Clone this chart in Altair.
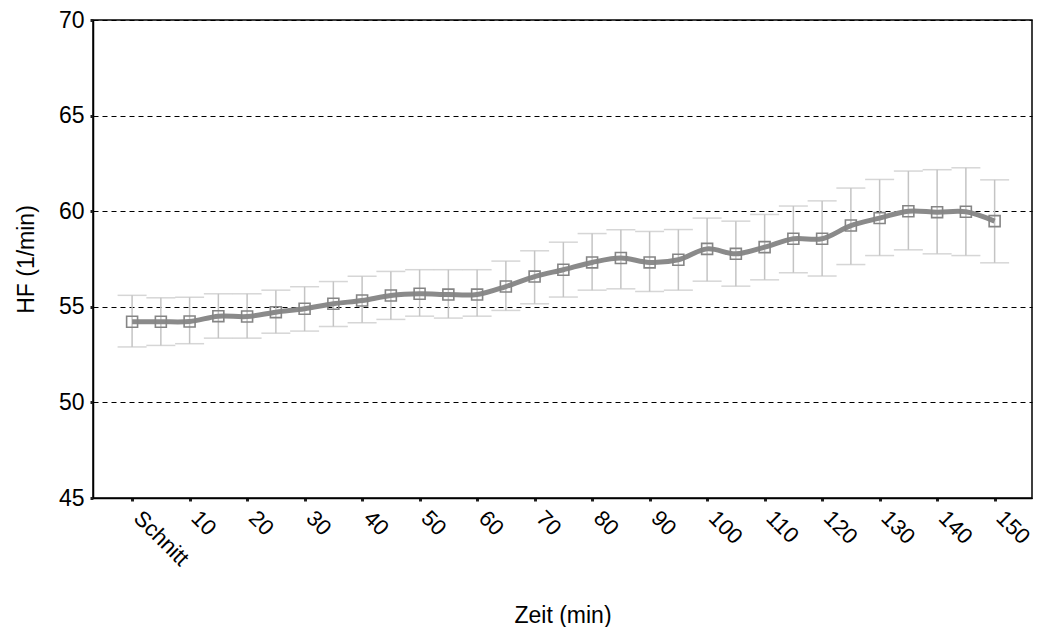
import altair as alt
import pandas as pd

step_index = list(range(31))
tick_labels = ["Schnitt"] + [str(m) for m in range(10, 151, 10)]
mean_hf = [54.22, 54.22, 54.23, 54.51, 54.49, 54.72, 54.90, 55.16, 55.33, 55.59,
           55.68, 55.64, 55.64, 56.06, 56.58, 56.94, 57.32, 57.55, 57.32, 57.46,
           58.03, 57.77, 58.12, 58.56, 58.56, 59.25, 59.64, 60.00, 59.95, 59.97,
           59.48]
upper_hf = [55.60, 55.47, 55.50, 55.68, 55.68, 55.87, 56.05, 56.32, 56.60, 56.85,
            56.94, 56.94, 56.94, 57.39, 57.93, 58.38, 58.83, 59.03, 58.94, 59.04,
            59.64, 59.48, 59.83, 60.27, 60.54, 61.21, 61.66, 62.10, 62.17, 62.27,
            61.64]
lower_hf = [52.90, 52.98, 53.07, 53.36, 53.36, 53.62, 53.73, 53.97, 54.16, 54.34,
            54.51, 54.41, 54.51, 54.81, 55.16, 55.51, 55.87, 55.94, 55.80, 55.87,
            56.34, 56.08, 56.41, 56.78, 56.61, 57.21, 57.68, 57.98, 57.77, 57.68,
            57.30]

df = pd.DataFrame({"i": step_index, "mean": mean_hf, "up": upper_hf, "lo": lower_hf})

label_expr = "datum.value == 0 ? 'Schnitt' : format(datum.value * 5, 'd')"

FS = 23

x_enc = alt.X(
    "i:Q",
    scale=alt.Scale(domain=[-1.36, 31.3], nice=False, zero=False),
    axis=alt.Axis(
        title="Zeit (min)",
        values=list(range(0, 31, 2)),
        labelExpr=label_expr,
        labelOverlap=False,
        labelAngle=45,
        labelAlign="left",
        labelBaseline="alphabetic",
        labelPadding=18,
        labelFontSize=22,
        titleFontSize=FS,
        titleFontWeight="normal",
        titleY=124,
        titleBaseline="alphabetic",
        grid=False,
        tickSize=3,
        tickWidth=3,
        tickColor="#222222",
        domainColor="black",
        domainWidth=1.5,
        labelColor="black",
        titleColor="black",
    ),
)

y_scale = alt.Scale(domain=[45, 70], nice=False, zero=False)
y_axis = alt.Axis(
    title="HF (1/min)",
    values=[45, 50, 55, 60, 65, 70],
    labelFontSize=FS,
    titleFontSize=FS,
    titleFontWeight="normal",
    titleAngle=270,
    titleX=-67,
    titleY=239,
    titleBaseline="middle",
    titleAlign="center",
    labelPadding=6,
    grid=True,
    gridColor="black",
    gridDash=[5, 4],
    gridWidth=1.2,
    tickSize=3,
    tickWidth=3,
    tickColor="#222222",
    domainColor="black",
    domainWidth=1.5,
    labelColor="black",
    titleColor="black",
)

base = alt.Chart(df)

rules = base.mark_rule(color="#c4c4c4", strokeWidth=1.5).encode(
    x=x_enc,
    y=alt.Y("lo:Q", scale=y_scale, axis=y_axis),
    y2="up:Q",
)
cap_up = base.mark_tick(orient="horizontal", size=29, thickness=1.5, color="#c4c4c4").encode(
    x="i:Q", y="up:Q"
)
cap_lo = base.mark_tick(orient="horizontal", size=29, thickness=1.5, color="#c4c4c4").encode(
    x="i:Q", y="lo:Q"
)
line = base.mark_line(color="#8a8a8a", strokeWidth=5, interpolate="catmull-rom").encode(
    x="i:Q", y="mean:Q"
)
pts = base.mark_point(shape="square", size=120, filled=False, color="#858585",
                      strokeWidth=1.6, opacity=1).encode(x="i:Q", y="mean:Q")

chart = alt.layer(rules, cap_up, cap_lo, line, pts).properties(
    width=939,
    height=478,
    autosize=alt.AutoSizeParams(type="none"),
    padding={"left": 85, "top": 12, "right": 2, "bottom": 129},
    background="white",
).configure_view(
    stroke="black", strokeWidth=1.5
).configure_axis(
    labelFont="Liberation Sans", titleFont="Liberation Sans"
)

chart.save("out.html", embed_options={"renderer": "svg", "actions": False})
